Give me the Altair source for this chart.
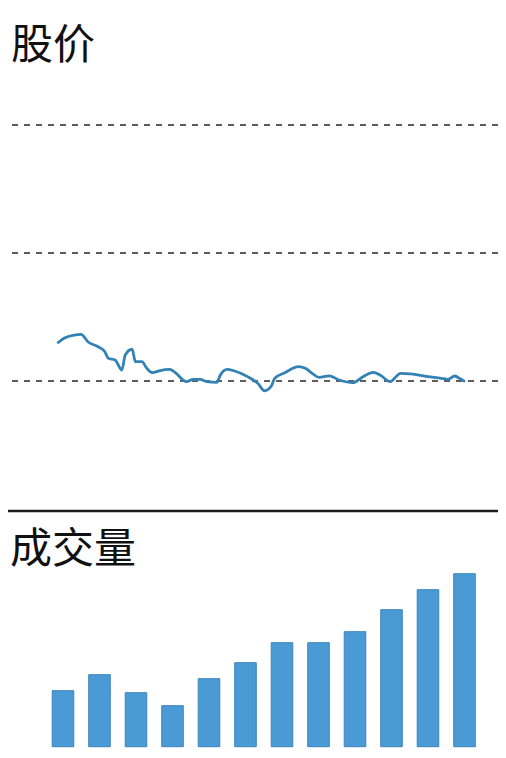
import altair as alt
import pandas as pd

# ---- data ----
price_days = [0, 2, 5, 7, 9, 12, 14, 15, 17, 19, 20, 22, 23, 25, 26, 28, 30, 33, 35, 37,
              38, 40, 42, 44, 47, 48, 50, 52, 56, 59, 61, 63, 64, 67, 71, 73, 75, 77, 80, 83,
              87, 90, 93, 95, 98, 101, 104, 109, 113, 115, 117, 118, 120]
price_values = [12.95, 13.34, 13.59, 13.65, 13.07, 12.68, 12.29, 11.77, 11.64, 10.86,
                12.03, 12.48, 11.51, 11.51, 11.12, 10.65, 10.80, 10.91, 10.60, 10.08,
                9.95, 10.13, 10.13, 9.95, 9.90, 10.47, 10.91, 10.80, 10.34, 9.82,
                9.24, 9.61, 10.21, 10.65, 11.12, 10.99, 10.60, 10.29, 10.40, 10.08,
                9.87, 10.34, 10.68, 10.47, 9.95, 10.60, 10.55, 10.34, 10.21, 10.13,
                10.39, 10.26, 9.95]
grid_levels = [10, 20, 30]

volume_periods = [1, 2, 3, 4, 5, 6, 7, 8, 9, 10, 11, 12]
volume_values = [56, 72, 54, 41, 68, 84, 104, 104, 115, 137, 157, 173]

titles = ["股价", "成交量"]

# ---- styles ----
FONT = "Noto Sans CJK SC"
LINE_COLOR = "#3282b5"
BAR_COLOR = "#4a9bd5"
W, H = 490, 740

price_df = pd.DataFrame({"day": price_days, "price": price_values})
grid_df = pd.DataFrame({"level": grid_levels})
vol_df = pd.DataFrame({"period": volume_periods, "volume": volume_values})

price_scale = alt.Scale(domain=[0, 30], range=[501, 117], nice=False, zero=False)
day_scale = alt.Scale(domain=[0, 120], range=[49.3, 457], nice=False, zero=False)

grid = alt.Chart(grid_df).mark_rule(
    color="#2a2a2a", strokeDash=[6, 6], strokeWidth=1.3
).encode(y=alt.Y("level:Q", scale=price_scale, axis=None))

line = alt.Chart(price_df).mark_line(
    color=LINE_COLOR, strokeWidth=2.8, interpolate="monotone"
).encode(
    x=alt.X("day:Q", scale=day_scale, axis=None),
    y=alt.Y("price:Q", scale=price_scale, axis=None),
)

price_layer = alt.layer(grid, line)

bars = alt.Chart(vol_df).mark_bar(
    color=BAR_COLOR, stroke="#3b84bb", strokeWidth=1
).encode(
    x=alt.X("period:O", scale=alt.Scale(range=[36.75, 474.75], paddingInner=0.41,
                                         paddingOuter=0.205), axis=None),
    y=alt.Y("volume:Q", scale=alt.Scale(domain=[0, 200], range=[738.7, 538.7],
                                         nice=False), axis=None),
)

title1 = alt.Chart(pd.DataFrame({"t": [titles[0]]})).mark_text(
    font=FONT, fontSize=42, color="#111111", align="left", baseline="alphabetic"
).encode(text="t:N", x=alt.value(3), y=alt.value(51))

title2 = alt.Chart(pd.DataFrame({"t": [titles[1]]})).mark_text(
    font=FONT, fontSize=42, color="#111111", align="left", baseline="alphabetic"
).encode(text="t:N", x=alt.value(2), y=alt.value(555))

separator = alt.Chart(pd.DataFrame({"a": [0]})).mark_rule(
    color="#1e1e1e", strokeWidth=2.5
).encode(x=alt.value(0), x2=alt.value(W), y=alt.value(503))

chart = alt.layer(price_layer, bars, title1, title2, separator).resolve_scale(
    x="independent", y="independent"
).properties(
    width=W, height=H, padding=0, autosize=alt.AutoSizeParams(type="none"),
    background="#ffffff"
).configure_view(strokeWidth=0)

chart.save("out.html", embed_options={"renderer": "svg", "actions": False})
